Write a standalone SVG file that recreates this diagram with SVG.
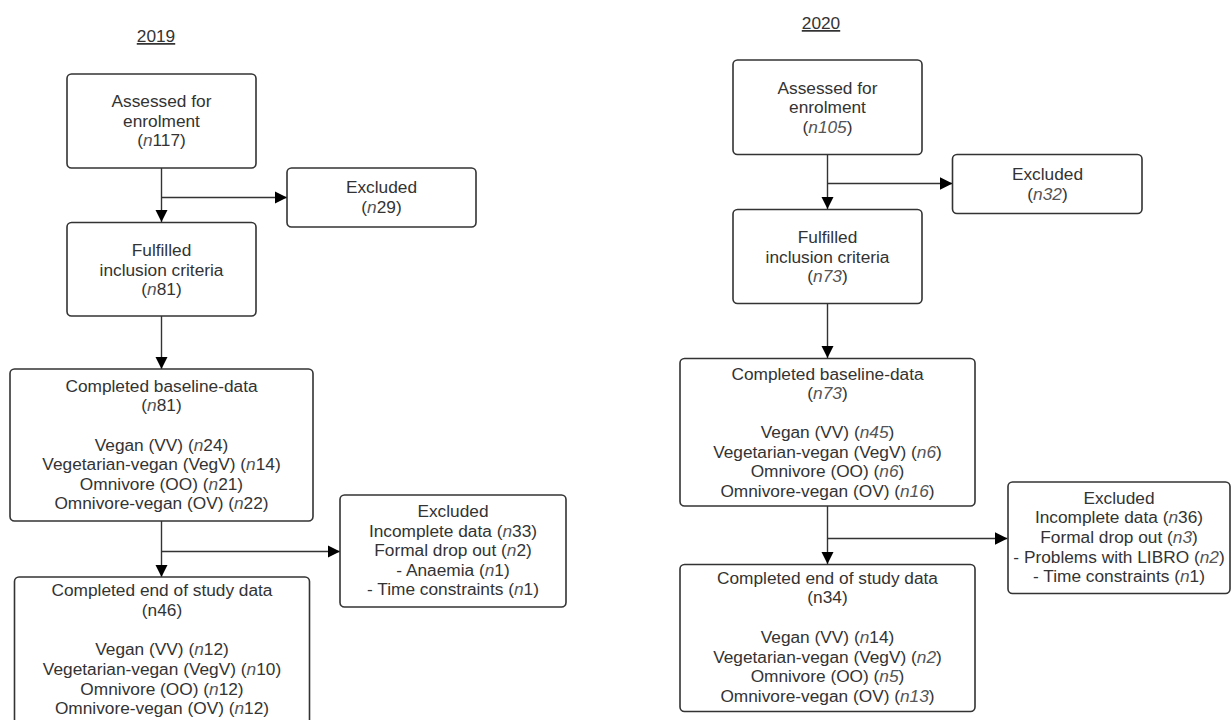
<svg xmlns="http://www.w3.org/2000/svg" width="1231" height="720" viewBox="0 0 1231 720">
<style>
  .box { fill: #ffffff; stroke: #333333; stroke-width: 1.6; }
  .t { font-family: "Liberation Sans", Arial, sans-serif; font-size: 17.3px; fill: #333333; text-anchor: middle; }
  .i { font-style: italic; fill: #555555; }
  .title { font-family: "Liberation Sans", Arial, sans-serif; font-size: 17.3px; fill: #333333; text-anchor: middle; text-decoration: underline; }
  .c { fill: none; stroke: #333333; stroke-width: 1.4; }
</style>
<defs>
  <marker id="ah" viewBox="0 0 12 12" refX="12" refY="6" markerWidth="12.5" markerHeight="12.5" markerUnits="userSpaceOnUse" orient="auto">
    <path d="M0,0 L12,6 L0,12 z" fill="#000000"/>
  </marker>
</defs>
<rect width="1231" height="720" fill="#ffffff"/>

<text class="title" x="156" y="42">2019</text>
<text class="title" x="821" y="29">2020</text>

<g id="connectors">
  <path class="c" d="M161.5,168 L161.5,222" marker-end="url(#ah)"/>
  <path class="c" d="M161.5,197.5 L287,197.5" marker-end="url(#ah)"/>
  <path class="c" d="M161.5,316 L161.5,369" marker-end="url(#ah)"/>
  <path class="c" d="M161.5,521 L161.5,577" marker-end="url(#ah)"/>
  <path class="c" d="M161.5,551.5 L340,551.5" marker-end="url(#ah)"/>

  <path class="c" d="M827.5,154.5 L827.5,209" marker-end="url(#ah)"/>
  <path class="c" d="M827.5,183.5 L952.5,183.5" marker-end="url(#ah)"/>
  <path class="c" d="M827.5,303.5 L827.5,358" marker-end="url(#ah)"/>
  <path class="c" d="M827.5,506 L827.5,564" marker-end="url(#ah)"/>
  <path class="c" d="M827.5,538.5 L1007.5,538.5" marker-end="url(#ah)"/>
</g>

<!-- 2019 -->
<g id="assessed2019">
  <rect class="box" x="67" y="74" width="189" height="94" rx="4.5"/>
  <text class="t" x="161.5" y="107">Assessed for</text>
  <text class="t" x="161.5" y="126.5">enrolment</text>
  <text class="t" x="161.5" y="146">(<tspan class="i">n</tspan>117)</text>
</g>
<g id="excluded2019a">
  <rect class="box" x="287" y="168" width="189" height="59" rx="4.5"/>
  <text class="t" x="381.5" y="193">Excluded</text>
  <text class="t" x="381.5" y="212.5">(<tspan class="i">n</tspan>29)</text>
</g>
<g id="fulfilled2019">
  <rect class="box" x="67" y="222.5" width="189" height="93.5" rx="4.5"/>
  <text class="t" x="161.5" y="256">Fulfilled</text>
  <text class="t" x="161.5" y="275.5">inclusion criteria</text>
  <text class="t" x="161.5" y="295">(<tspan class="i">n</tspan>81)</text>
</g>
<g id="baseline2019">
  <rect class="box" x="10" y="369" width="303" height="152" rx="4.5"/>
  <text class="t" x="161.5" y="391.5">Completed baseline-data</text>
  <text class="t" x="161.5" y="411">(<tspan class="i">n</tspan>81)</text>
  <text class="t" x="161.5" y="450.5">Vegan (VV) (<tspan class="i">n</tspan>24)</text>
  <text class="t" x="161.5" y="470">Vegetarian-vegan (VegV) (<tspan class="i">n</tspan>14)</text>
  <text class="t" x="161.5" y="489.5">Omnivore (OO) (<tspan class="i">n</tspan>21)</text>
  <text class="t" x="161.5" y="509">Omnivore-vegan (OV) (<tspan class="i">n</tspan>22)</text>
</g>
<g id="excluded2019b">
  <rect class="box" x="340" y="495" width="226" height="112" rx="4.5"/>
  <text class="t" x="453" y="517">Excluded</text>
  <text class="t" x="453" y="536.5">Incomplete data (<tspan class="i">n</tspan>33)</text>
  <text class="t" x="453" y="556">Formal drop out (<tspan class="i">n</tspan>2)</text>
  <text class="t" x="453" y="575.5">- Anaemia (<tspan class="i">n</tspan>1)</text>
  <text class="t" x="453" y="595">- Time constraints (<tspan class="i">n</tspan>1)</text>
</g>
<g id="end2019">
  <rect class="box" x="14.5" y="577" width="295" height="160" rx="4.5"/>
  <text class="t" x="162" y="596">Completed end of study data</text>
  <text class="t" x="162" y="616">(n46)</text>
  <text class="t" x="162" y="655">Vegan (VV) (<tspan class="i">n</tspan>12)</text>
  <text class="t" x="162" y="675">Vegetarian-vegan (VegV) (<tspan class="i">n</tspan>10)</text>
  <text class="t" x="162" y="694.5">Omnivore (OO) (<tspan class="i">n</tspan>12)</text>
  <text class="t" x="162" y="714">Omnivore-vegan (OV) (<tspan class="i">n</tspan>12)</text>
</g>

<!-- 2020 -->
<g id="assessed2020">
  <rect class="box" x="733" y="60" width="189" height="94.5" rx="4.5"/>
  <text class="t" x="827.5" y="93.5">Assessed for</text>
  <text class="t" x="827.5" y="113">enrolment</text>
  <text class="t" x="827.5" y="132.5">(<tspan class="i">n105</tspan>)</text>
</g>
<g id="excluded2020a">
  <rect class="box" x="952.5" y="154.5" width="189.5" height="59" rx="4.5"/>
  <text class="t" x="1047.5" y="180">Excluded</text>
  <text class="t" x="1047.5" y="200">(<tspan class="i">n32</tspan>)</text>
</g>
<g id="fulfilled2020">
  <rect class="box" x="733" y="209.5" width="189" height="94" rx="4.5"/>
  <text class="t" x="827.5" y="243">Fulfilled</text>
  <text class="t" x="827.5" y="262.5">inclusion criteria</text>
  <text class="t" x="827.5" y="282">(<tspan class="i">n73</tspan>)</text>
</g>
<g id="baseline2020">
  <rect class="box" x="680" y="358.5" width="295" height="147.5" rx="4.5"/>
  <text class="t" x="827.5" y="379.5">Completed baseline-data</text>
  <text class="t" x="827.5" y="398.5">(<tspan class="i">n73</tspan>)</text>
  <text class="t" x="827.5" y="438">Vegan (VV) (<tspan class="i">n45</tspan>)</text>
  <text class="t" x="827.5" y="457.5">Vegetarian-vegan (VegV) (<tspan class="i">n6</tspan>)</text>
  <text class="t" x="827.5" y="477">Omnivore (OO) (<tspan class="i">n6</tspan>)</text>
  <text class="t" x="827.5" y="496.5">Omnivore-vegan (OV) (<tspan class="i">n16</tspan>)</text>
</g>
<g id="excluded2020b">
  <rect class="box" x="1008" y="482" width="222" height="111.5" rx="4.5"/>
  <text class="t" x="1119" y="503.5">Excluded</text>
  <text class="t" x="1119" y="523">Incomplete data (<tspan class="i">n</tspan>36)</text>
  <text class="t" x="1119" y="542.5">Formal drop out (<tspan class="i">n3</tspan>)</text>
  <text class="t" x="1119" y="562.5">- Problems with LIBRO (<tspan class="i">n2</tspan>)</text>
  <text class="t" x="1119" y="582">- Time constraints (<tspan class="i">n</tspan>1)</text>
</g>
<g id="end2020">
  <rect class="box" x="680" y="564.5" width="295" height="147" rx="4.5"/>
  <text class="t" x="827.5" y="583.5">Completed end of study data</text>
  <text class="t" x="827.5" y="603">(n34)</text>
  <text class="t" x="827.5" y="642.5">Vegan (VV) (<tspan class="i">n</tspan>14)</text>
  <text class="t" x="827.5" y="662.5">Vegetarian-vegan (VegV) (<tspan class="i">n2</tspan>)</text>
  <text class="t" x="827.5" y="682">Omnivore (OO) (<tspan class="i">n5</tspan>)</text>
  <text class="t" x="827.5" y="701.5">Omnivore-vegan (OV) (<tspan class="i">n13</tspan>)</text>
</g>
</svg>
